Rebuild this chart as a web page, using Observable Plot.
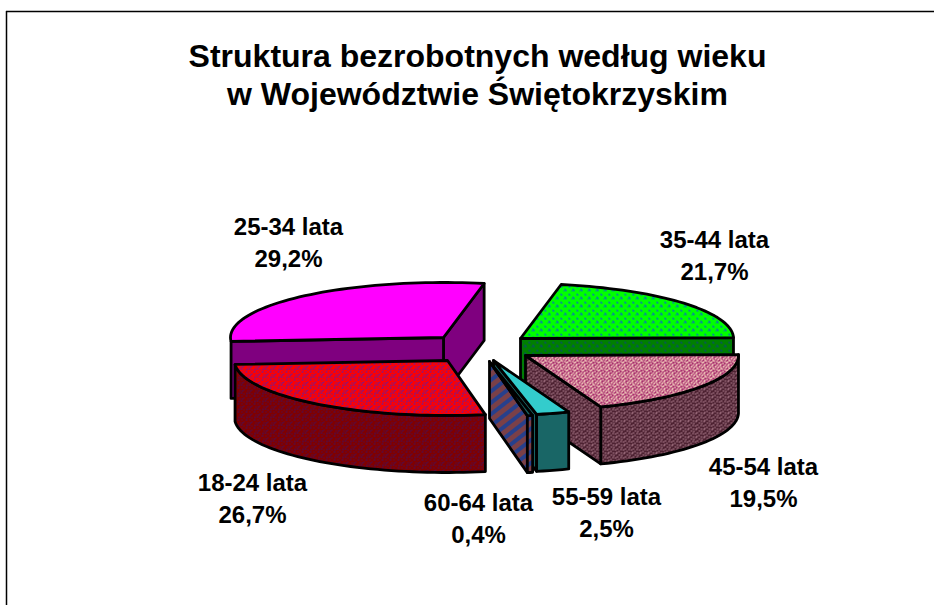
<!DOCTYPE html>
<html lang="pl">
<head>
<meta charset="utf-8">
<style>html,body{margin:0;padding:0;background:#fff;overflow:hidden}svg{display:block}</style>
<script src="https://cdn.jsdelivr.net/npm/d3@7"></script>
<script src="https://cdn.jsdelivr.net/npm/@observablehq/plot@0.6"></script>
</head>
<body>
<div id="chart"></div>
<script>
// Data, clockwise from the first slice
const categories = ["35-44 lata", "45-54 lata", "55-59 lata", "60-64 lata", "18-24 lata", "25-34 lata"];
const values = [21.7, 19.5, 2.5, 0.4, 26.7, 29.2];
const titleLines = ["Struktura bezrobotnych według wieku", "w Województwie Świętokrzyskim"];

// Layout of the exploded 3-D pie (not data)
const firstAngle = 11, rx = 213, ry = 55, depth = 57;
const apexX = [520, 525, 493, 489, 447, 443];
const apexY = [338, 355, 360, 361, 360, 337];
const labelX = [714, 763, 606, 478, 252, 288];
const labelY = [240, 467, 497, 503, 483, 227];

const fmt = v => v.toFixed(1).replace(".", ",") + "%";
let acc = firstAngle;
const slices = categories.map((name, i) => {
  const a0 = acc, a1 = acc + values[i] * 3.6;
  acc = a1;
  return {name, value: values[i], a0, a1, cx: apexX[i], cy: apexY[i]};
});
const bySlice = Object.fromEntries(slices.map(s => [s.name, s]));

const pt = (s, a, dz = 0) => {
  const t = a * Math.PI / 180;
  return [s.cx + rx * Math.sin(t), s.cy - ry * Math.cos(t) + dz];
};
const arc = (s, a0, a1, dz = 0) => {
  const n = Math.max(2, Math.ceil(Math.abs(a1 - a0) / 2));
  return d3.range(n + 1).map(k => pt(s, a0 + (a1 - a0) * k / n, dz));
};
const topFace = s => [[s.cx, s.cy], ...arc(s, s.a0, s.a1)];
const outerWall = (s, a0, a1) => [...arc(s, a0, a1), ...arc(s, a1, a0, depth)];
const sideWall = (s, a) => [[s.cx, s.cy], pt(s, a), pt(s, a, depth), [s.cx, s.cy + depth]];

const poly = (pts, fill) => Plot.line(pts, {
  x: d => d[0], y: d => d[1], curve: "linear-closed",
  fill, stroke: "#000", strokeWidth: 2.8, strokeLinejoin: "round"
});

// Fill patterns of the original (dithered hatchings)
function tile(id, size, bg, fg, rects) {
  return `<pattern id="${id}" width="${size}" height="${size}" patternUnits="userSpaceOnUse"><rect width="${size}" height="${size}" fill="${bg}"/>` +
    rects.map(r => `<rect x="${r[0]}" y="${r[1]}" width="${r[2]}" height="${r[3]}" fill="${fg}"/>`).join("") + `</pattern>`;
}
const patternDefs = () => {
  const g = document.createElementNS("http://www.w3.org/2000/svg", "defs");
  const sparse = [[4,0,1,2],[5,1,1,2],[3,2,1,1],[0,5,1,2],[1,6,1,1]];
  const weave = [[0,0,2,1],[4,0,1,2],[6,1,2,1],[2,2,1,2],[0,3,1,2],[4,4,2,1],[7,4,1,2],[2,6,2,1],[5,6,1,2]];
  const weaveDense = weave.concat([[2,0,1,1],[5,2,2,1],[0,6,1,2],[3,5,1,1],[6,6,1,1]]);
  const mottled = [[0,0,2,1],[3,1,1,1],[6,0,1,2],[1,3,1,1],[5,3,2,1],[3,5,1,1],[7,6,1,1],[1,6,2,1]];
  g.innerHTML =
    tile("pGreen", 8, "#00ff00", "#0a66c8", sparse) +
    tile("pGreenD", 8, "#007f00", "#0a4a70", sparse) +
    tile("pPink", 8, "#a8306e", "#ffe4c8", weaveDense) +
    tile("pBrown", 8, "#4e2232", "#a87888", weave) +
    tile("pRed", 8, "#ff0000", "#4a20c0", mottled) +
    tile("pRedD", 8, "#800000", "#401060", mottled) +
    `<pattern id="pStripe" width="9" height="9" patternUnits="userSpaceOnUse" patternTransform="rotate(-38)"><rect width="9" height="9" fill="#7a4048"/><rect y="5" width="9" height="4" fill="#27408c"/></pattern>`;
  return g;
};

const s = bySlice;
const p2534 = s["25-34 lata"], p3544 = s["35-44 lata"], p4554 = s["45-54 lata"],
      p5559 = s["55-59 lata"], p6064 = s["60-64 lata"], p1824 = s["18-24 lata"];

const labelStyle = {x: "x", y: "y", text: "t", fontSize: 24, fontWeight: 700, fill: "#000", fontFamily: "Liberation Sans"};

const marks = [
  patternDefs,
  // frame of the original picture
  Plot.ruleY([11], {x1: 6, x2: 934, stroke: "#000", strokeWidth: 1.5}),
  Plot.ruleX([6], {y1: 11, y2: 605, stroke: "#000", strokeWidth: 1.5}),
  // 25-34
  poly(sideWall(p2534, p2534.a1), "#7f007f"),
  poly(sideWall(p2534, p2534.a0), "#7f007f"),
  poly(topFace(p2534), "#ff00ff"),
  // 35-44
  poly(sideWall(p3544, p3544.a1), "url(#pGreenD)"),
  poly(topFace(p3544), "url(#pGreen)"),
  // 45-54
  poly(outerWall(p4554, p4554.a0, p4554.a1), "url(#pBrown)"),
  poly(sideWall(p4554, p4554.a1), "url(#pBrown)"),
  poly(topFace(p4554), "url(#pPink)"),
  // 18-24
  poly(outerWall(p1824, p1824.a0, p1824.a1), "url(#pRedD)"),
  poly(topFace(p1824), "url(#pRed)"),
  // 55-59
  poly(sideWall(p5559, p5559.a1), "#196666"),
  poly(outerWall(p5559, p5559.a0, p5559.a1), "#196666"),
  poly(topFace(p5559), "#33cccc"),
  // 60-64
  poly(sideWall(p6064, p6064.a1), "url(#pStripe)"),
  poly(outerWall(p6064, p6064.a0, p6064.a1), "url(#pStripe)"),
  poly(topFace(p6064), "#196666"),
  // labels
  Plot.text(slices.map((d, i) => ({t: d.name, x: labelX[i], y: labelY[i]})), labelStyle),
  Plot.text(slices.map((d, i) => ({t: fmt(d.value), x: labelX[i], y: labelY[i] + 32})), labelStyle),
  Plot.text(titleLines.map((t, i) => ({t, y: 56 + i * 38})), {
    x: () => 477, y: "y", text: "t", fontSize: 32, fontWeight: 700, fill: "#000", fontFamily: "Liberation Sans"
  })
];

const plot = Plot.plot({
  width: 934, height: 605, margin: 0,
  style: {background: "#fff"},
  x: {type: "identity", axis: null}, y: {type: "identity", axis: null},
  marks
});
document.getElementById("chart").append(plot);
</script>
</body>
</html>
